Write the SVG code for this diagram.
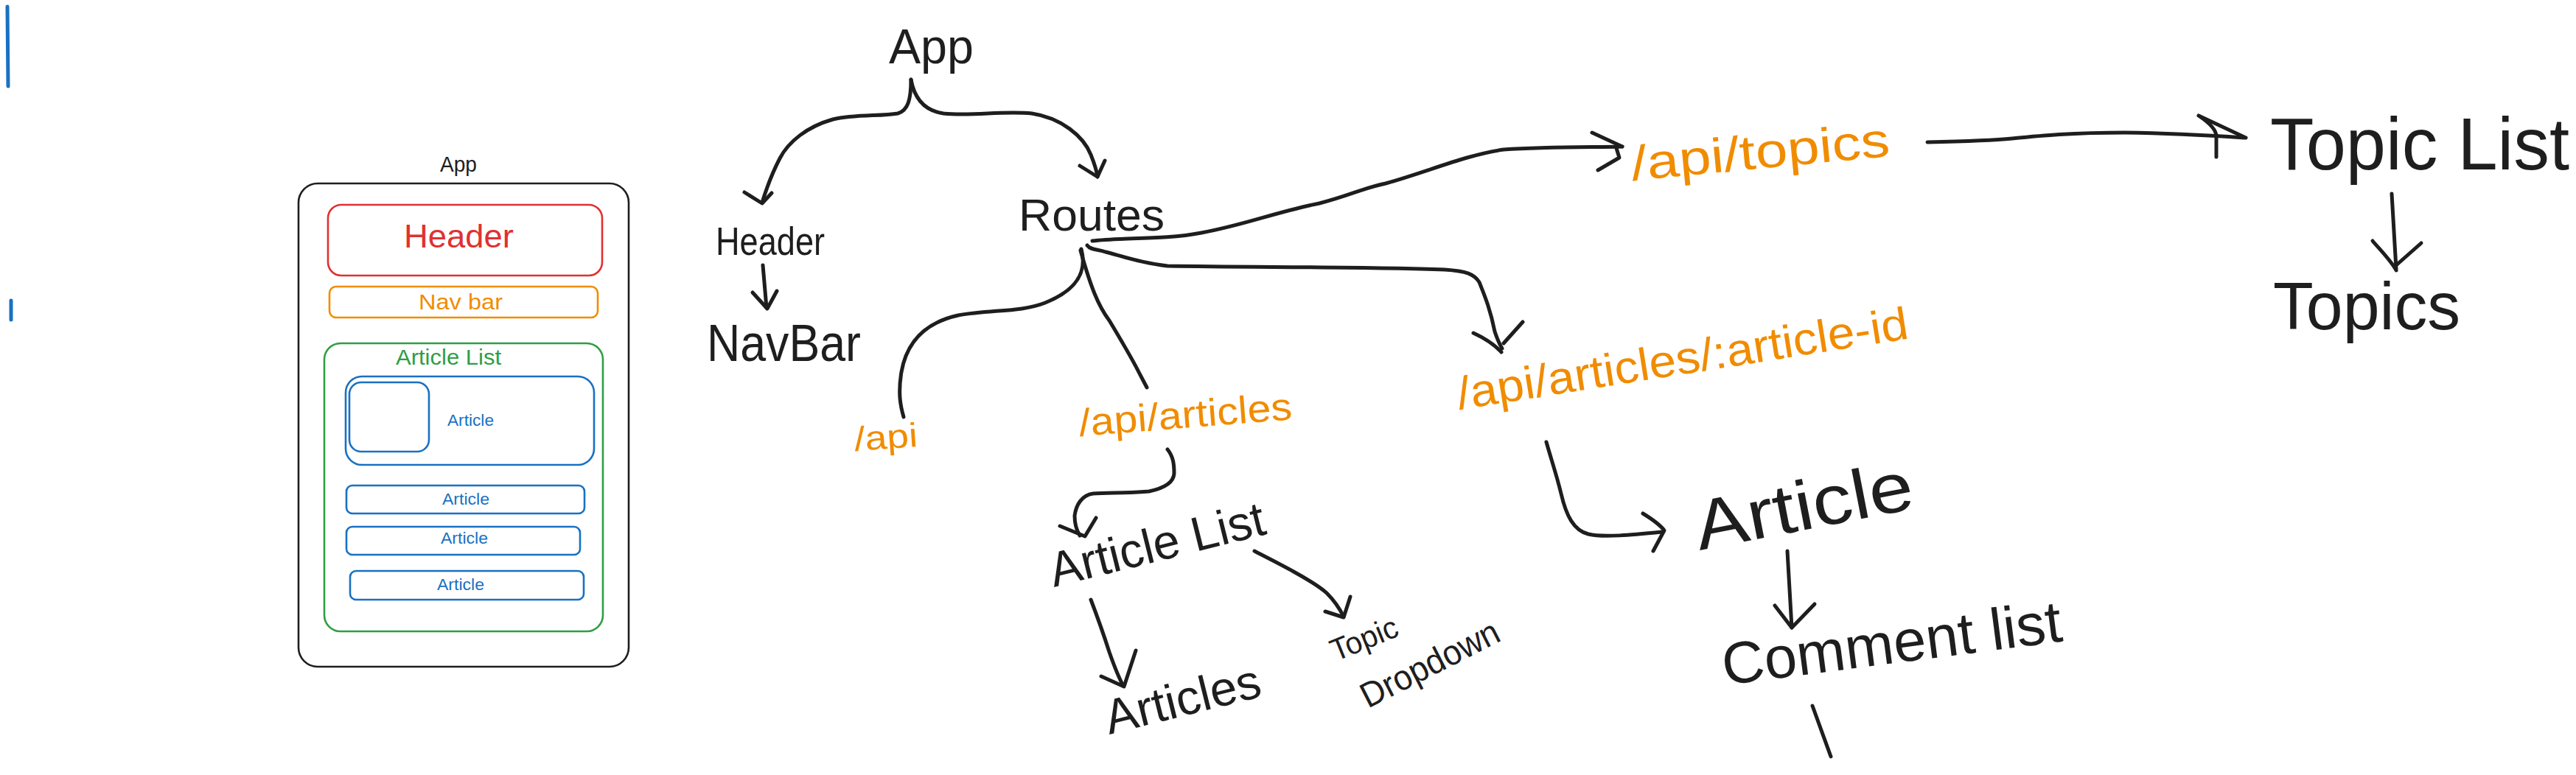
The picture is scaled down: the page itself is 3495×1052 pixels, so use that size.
<svg xmlns="http://www.w3.org/2000/svg" width="3495" height="1052" viewBox="0 0 3495 1052">
<style>
.ink{fill:none;stroke:#1e1e1e;stroke-width:5;stroke-linecap:round;stroke-linejoin:round}
.t{font-family:"Liberation Sans",Arial,sans-serif;fill:#1e1e1e}
.or{fill:#f08c00}
.box{fill:none;stroke-width:2.6}
.k{stroke:#1e1e1e}
.r{stroke:#e03131}
.y{stroke:#f08c00}
.g{stroke:#2f9e44}
.b{stroke:#1971c2}
.blue{fill:none;stroke:#1971c2;stroke-width:5;stroke-linecap:round}
</style>
<rect width="3495" height="1052" fill="#ffffff"/>
<g id="marks">
<path class="blue" d="M10,9 L11,117"/>
<path class="blue" d="M15,408 L15,434"/>
</g>
<g id="wireframe">
<text class="t" x="597" y="233" font-size="30" textLength="50" lengthAdjust="spacingAndGlyphs">App</text>
<rect class="box k" x="405" y="249" width="448" height="656" rx="26" stroke-width="3"/>
<g id="wf-header">
<rect class="box r" x="445" y="278" width="372" height="96" rx="18"/>
<text class="t" x="548" y="336" font-size="44" style="fill:#e03131" textLength="149" lengthAdjust="spacingAndGlyphs">Header</text>
</g>
<g id="wf-navbar">
<rect class="box y" x="447" y="389" width="364" height="42" rx="9"/>
<text class="t" x="568" y="420" font-size="30" style="fill:#f08c00" textLength="114" lengthAdjust="spacingAndGlyphs">Nav bar</text>
</g>
<g id="wf-articlelist">
<rect class="box g" x="440" y="466" width="378" height="391" rx="22"/>
<text class="t" x="537" y="495" font-size="30" style="fill:#2f9e44" textLength="143" lengthAdjust="spacingAndGlyphs">Article List</text>
</g>
<g id="wf-article-main">
<rect class="box b" x="469" y="511" width="337" height="120" rx="22"/>
<rect class="box b" x="474" y="519" width="108" height="94" rx="16"/>
<text class="t" x="607" y="578" font-size="22" style="fill:#1971c2" textLength="63" lengthAdjust="spacingAndGlyphs">Article</text>
</g>
<g id="wf-article-1">
<rect class="box b" x="470" y="659" width="323" height="38" rx="8"/>
<text class="t" x="600" y="685" font-size="22" style="fill:#1971c2" textLength="64" lengthAdjust="spacingAndGlyphs">Article</text>
</g>
<g id="wf-article-2">
<rect class="box b" x="470" y="715" width="317" height="38" rx="8"/>
<text class="t" x="598" y="738" font-size="22" style="fill:#1971c2" textLength="64" lengthAdjust="spacingAndGlyphs">Article</text>
</g>
<g id="wf-article-3">
<rect class="box b" x="475" y="775" width="317" height="39" rx="8"/>
<text class="t" x="593" y="801" font-size="22" style="fill:#1971c2" textLength="64" lengthAdjust="spacingAndGlyphs">Article</text>
</g>
</g>
<g id="connectors">
<path class="ink" d="M1236,108 C1236,135 1232,150 1218,154 C1195,158 1160,155 1130,162 C1095,172 1070,192 1058,215 C1045,240 1038,262 1034,275"/>
<path class="ink" d="M1010,261 L1034,276 L1047,262"/>
<path class="ink" d="M1236,108 C1240,130 1252,150 1280,154 C1320,158 1360,150 1400,154 C1440,160 1470,185 1480,210 C1486,225 1488,232 1489,240"/>
<path class="ink" d="M1465,225 L1489,240 L1499,218"/>
<path class="ink" d="M1035,360 L1040,418"/>
<path class="ink" d="M1021,397 L1041,419 L1054,395"/>
<path class="ink" d="M1482,327 C1520,322 1580,326 1630,316 C1690,305 1730,288 1790,276 C1830,266 1850,255 1880,249 C1940,232 1990,210 2040,203 C2100,199 2160,200 2201,199"/>
<path class="ink" d="M2160,180 L2201,199 M2193,201 L2197,214 L2168,231"/>
<path class="ink" d="M1475,333 C1480,340 1490,338 1500,342 C1530,350 1555,358 1584,361 C1700,363 1850,362 1960,366 C1990,368 2000,372 2007,383 C2015,403 2022,420 2028,450 C2032,462 2035,468 2038,473"/>
<path class="ink" d="M1999,452 C2012,458 2025,465 2037,478 M2040,466 L2066,437"/>
<path class="ink" d="M1467,338 C1476,372 1458,395 1418,411 C1385,424 1345,420 1300,428 C1255,438 1230,465 1223,505 C1218,535 1222,552 1226,566"/>
<path class="ink" d="M1466,340 C1480,390 1490,415 1505,435 C1520,460 1535,485 1545,505 L1556,526"/>
<path class="ink" d="M1584,610 C1592,620 1593,630 1593,643 C1592,655 1578,663 1559,667 C1530,670 1500,668 1483,670 C1468,672 1460,685 1458,700 C1458,712 1462,722 1465,727"/>
<path class="ink" d="M1438,714 L1472,728 L1487,703"/>
<path class="ink" d="M1480,814 C1488,835 1497,860 1505,885 C1512,905 1518,920 1524,931"/>
<path class="ink" d="M1494,918 L1525,932 L1541,883"/>
<path class="ink" d="M1702,748 C1725,760 1745,770 1757,777 C1775,787 1790,796 1800,805 C1810,815 1818,827 1823,837"/>
<path class="ink" d="M1798,830 L1823,838 L1832,810"/>
<path class="ink" d="M2615,193 C2660,192 2700,191 2730,188 C2770,184 2810,180 2883,180 C2950,181 3000,184 3045,187"/>
<path class="ink" d="M2983,157 L3047,187 M2983,157 C2995,165 3007,175 3007,185 L3007,213"/>
<path class="ink" d="M3245,263 L3251,365"/>
<path class="ink" d="M3219,327 C3230,340 3245,355 3251,367 M3285,330 L3251,360"/>
<path class="ink" d="M2098,600 C2105,625 2112,645 2118,670 C2125,700 2135,720 2155,725 C2175,730 2215,726 2255,722"/>
<path class="ink" d="M2229,697 C2242,705 2252,712 2258,720 L2243,748"/>
<path class="ink" d="M2425,748 L2431,852"/>
<path class="ink" d="M2408,822 L2431,852 L2462,820"/>
<path class="ink" d="M2459,958 L2484,1027"/>
</g>
<g id="node-app"><text class="t" x="1206" y="86" font-size="66" textLength="115" lengthAdjust="spacingAndGlyphs">App</text></g>
<g id="node-header"><text class="t" x="971" y="346" font-size="54" textLength="148" lengthAdjust="spacingAndGlyphs">Header</text></g>
<g id="node-navbar"><text class="t" x="959" y="490" font-size="70" textLength="209" lengthAdjust="spacingAndGlyphs">NavBar</text></g>
<g id="node-routes"><text class="t" x="1382" y="313" font-size="62" textLength="198" lengthAdjust="spacingAndGlyphs">Routes</text></g>
<g id="node-api"><text class="t or" x="1160" y="612" font-size="46" transform="rotate(-4 1160 612)" textLength="86" lengthAdjust="spacingAndGlyphs">/api</text></g>
<g id="node-api-articles"><text class="t or" x="1465" y="592" font-size="52" transform="rotate(-4.5 1465 592)" textLength="290" lengthAdjust="spacingAndGlyphs">/api/articles</text></g>
<g id="node-article-list"><text class="t" x="1430" y="797" font-size="66" transform="rotate(-14 1430 797)" textLength="299" lengthAdjust="spacingAndGlyphs">Article List</text></g>
<g id="node-articles"><text class="t" x="1505" y="997" font-size="66" transform="rotate(-14 1505 997)" textLength="216" lengthAdjust="spacingAndGlyphs">Articles</text></g>
<g id="node-topic-dropdown">
<text class="t" x="1812" y="898" font-size="42" transform="rotate(-22 1812 898)" textLength="95" lengthAdjust="spacingAndGlyphs">Topic</text>
<text class="t" x="1856" y="962" font-size="48" transform="rotate(-27 1856 962)" textLength="205" lengthAdjust="spacingAndGlyphs">Dropdown</text>
</g>
<g id="node-api-topics"><text class="t or" x="2215" y="245" font-size="66" transform="rotate(-5.4 2215 245)" textLength="352" lengthAdjust="spacingAndGlyphs">/api/topics</text></g>
<g id="node-api-article-id"><text class="t or" x="1980" y="556" font-size="62" transform="rotate(-9 1980 556)" textLength="619" lengthAdjust="spacingAndGlyphs">/api/articles/:article-id</text></g>
<g id="node-article"><text class="t" x="2306" y="747" font-size="95" transform="rotate(-11 2306 747)" textLength="300" lengthAdjust="spacingAndGlyphs">Article</text></g>
<g id="node-comment-list"><text class="t" x="2340" y="930" font-size="80" transform="rotate(-7.4 2340 930)" textLength="464" lengthAdjust="spacingAndGlyphs">Comment list</text></g>
<g id="node-topic-list"><text class="t" x="3080" y="230" font-size="100" textLength="406" lengthAdjust="spacingAndGlyphs">Topic List</text></g>
<g id="node-topics"><text class="t" x="3084" y="447" font-size="90" textLength="254" lengthAdjust="spacingAndGlyphs">Topics</text></g>
</svg>
